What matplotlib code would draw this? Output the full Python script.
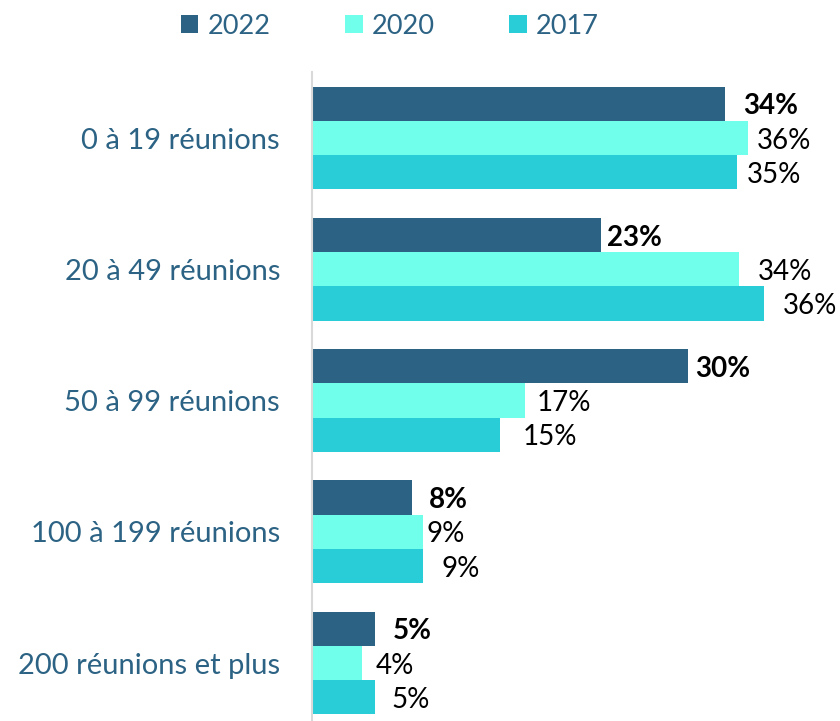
import matplotlib
matplotlib.use("Agg")
import matplotlib.pyplot as plt
from matplotlib.patches import Patch
import numpy as np

plt.rcParams['font.family'] = ['Lato', 'DejaVu Sans']

categories = ["0 à 19 réunions", "20 à 49 réunions", "50 à 99 réunions",
              "100 à 199 réunions", "200 réunions et plus"]
series_names = ["2022", "2020", "2017"]
# bar lengths (percent)
values_2022 = [33.0, 23.1, 30.0, 8.0, 5.0]
values_2020 = [34.8, 34.1, 17.0, 8.9, 4.0]
values_2017 = [33.9, 36.1, 15.0, 8.9, 5.0]
# printed labels
labels_2022 = ["34%", "23%", "30%", "8%", "5%"]
labels_2020 = ["36%", "34%", "17%", "9%", "4%"]
labels_2017 = ["35%", "36%", "15%", "9%", "5%"]

colors = ["#2C6384", "#6FFFEA", "#29CDD7"]
text_color = "#2C6384"
# label offsets from bar end, in pixels (style)
offsets = [
    [18, 6, 7, 17, 18],
    [9, 19, 12, 3, 14],
    [10, 19, 23, 18, 17],
]

W, H = 840, 721
fig = plt.figure(figsize=(W / 100, H / 100), dpi=100)
ax_left = 312 / W
ax_right = 813 / W
ax_top = 1 - 72 / H
ax = fig.add_axes([ax_left, 0.0, ax_right - ax_left, ax_top])

bar_h = 0.261
y = np.arange(len(categories))
all_values = [values_2022, values_2020, values_2017]
all_labels = [labels_2022, labels_2020, labels_2017]
for i, (vals, labs, col) in enumerate(zip(all_values, all_labels, colors)):
    pos = y + (i - 1) * bar_h
    ax.barh(pos, vals, height=bar_h, color=col, edgecolor='none', label=series_names[i])
    for j, (v, lab) in enumerate(zip(vals, labs)):
        ax.annotate(lab, (v, pos[j]), xytext=(offsets[i][j], 0), textcoords='offset pixels',
                    ha='left', va='center_baseline', fontsize=20,
                    fontweight='bold' if i == 0 else 'normal', color='black')

ax.set_xlim(0, 40)
top = -0.503
ax.set_ylim(top + 649 / 131.25, top)
ax.set_yticks(y)
ax.set_yticklabels(categories, fontsize=21, color=text_color)
ax.tick_params(axis='y', length=0, pad=23)
ax.set_xticks([])
for s in ['top', 'right', 'bottom']:
    ax.spines[s].set_visible(False)
ax.spines['left'].set_color('#D9D9D9')
ax.spines['left'].set_linewidth(1.5)

handles = [Patch(facecolor=c, edgecolor='none') for c in colors]
leg = fig.legend(handles, series_names, loc='center', bbox_to_anchor=(0.464, 1 - 26 / H),
                 ncol=3, frameon=False, fontsize=19.5, handlelength=0.66, handleheight=0.66,
                 handletextpad=0.33, columnspacing=2.75, borderaxespad=0)
for t in leg.get_texts():
    t.set_color(text_color)

fig.savefig("out.png", dpi=100)
